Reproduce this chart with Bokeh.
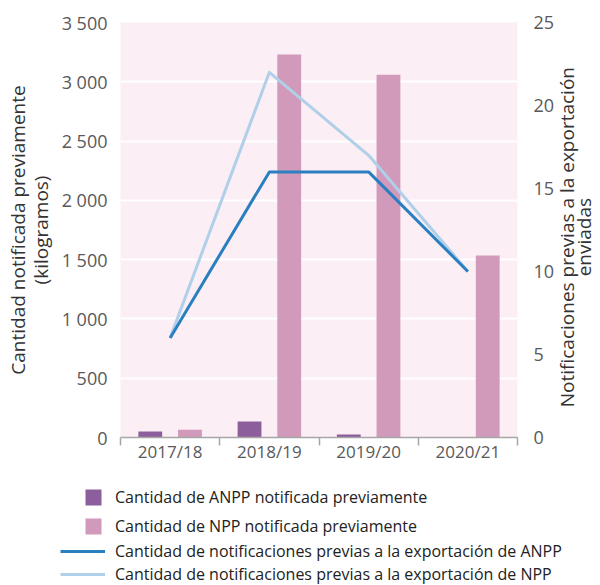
import math
from bokeh.plotting import figure
from bokeh.models import (ColumnDataSource, Range1d, LinearAxis, FixedTicker,
                          Legend, LegendItem, Label)
from bokeh.transform import dodge
from bokeh.embed import file_html
from bokeh.resources import INLINE

# ---------------- data ----------------
categories = ["2017/18", "2018/19", "2019/20", "2020/21"]
anpp_kg = [50, 135, 25, 4]
npp_kg = [65, 3230, 3060, 1535]
anpp_notifications = [6, 16, 16, 10]
npp_notifications = [6, 22, 17, 10]
left_ticks = [0, 500, 1000, 1500, 2000, 2500, 3000, 3500]
right_ticks = [0, 5, 10, 15, 20, 25]

left_title = "Cantidad notificada previamente\n(kilogramos)"
right_title = "Notificaciones previas a la exportación\nenviadas"
legend_labels = [
    "Cantidad de ANPP notificada previamente",
    "Cantidad de NPP notificada previamente",
    "Cantidad de notificaciones previas a la exportación de ANPP",
    "Cantidad de notificaciones previas a la exportación de NPP",
]

# ---------------- styling ----------------
FONT = "Open Sans"
C_ANPP_BAR = "#8C5E9C"
C_NPP_BAR = "#D199BA"
C_ANPP_LINE = "#2A7FC0"
C_NPP_LINE = "#AFD0E8"
TICK_COLOR = "#595959"
AXIS_GRAY = "#A6A6A6"
W = 600
H_MAIN = 475
H_LEG = 110

n = len(categories)
centers = [i + 0.5 for i in range(n)]
bounds = list(range(n + 1))

src = ColumnDataSource(dict(x=centers, cat=categories, anpp=anpp_kg, npp=npp_kg,
                            anpp_n=anpp_notifications, npp_n=npp_notifications))

p = figure(width=W, height=H_MAIN, x_range=Range1d(0, n), y_range=Range1d(0, 3500),
           output_backend="svg", toolbar_location=None,
           min_border_left=120, min_border_right=83, min_border_top=22,
           min_border_bottom=H_MAIN - 437, background_fill_color="#FCEEF5",
           border_fill_color="white", outline_line_color=None)

p.extra_y_ranges = {"right": Range1d(0, 25)}

# grid
p.xgrid.visible = False
lt = FixedTicker(ticks=left_ticks)
p.ygrid.ticker = lt
p.ygrid.grid_line_color = "white"
p.ygrid.grid_line_width = 2

# left axis
ya = p.yaxis[0]
ya.ticker = lt
ya.major_label_overrides = {v: f"{v:,}".replace(",", " ") for v in left_ticks}
ya.axis_line_color = None
ya.major_tick_line_color = None
ya.minor_tick_line_color = None
ya.major_label_standoff = 7
ya.major_label_text_font = FONT
ya.major_label_text_font_size = "18px"
ya.major_label_text_color = TICK_COLOR
ya.axis_label = left_title
ya.axis_label_text_font = FONT
ya.axis_label_text_font_size = "19px"
ya.axis_label_text_font_style = "normal"
ya.axis_label_text_color = "#333333"
ya.axis_label_text_line_height = 0.88
ya.axis_label_standoff = 5

# bottom axis
xa = p.xaxis[0]
xa.ticker = FixedTicker(ticks=centers, minor_ticks=bounds)
xa.major_label_overrides = {c: cat for c, cat in zip(centers, categories)}
xa.major_tick_line_color = None
xa.minor_tick_in = 0
xa.minor_tick_out = 8
xa.minor_tick_line_color = AXIS_GRAY
xa.minor_tick_line_width = 1.5
xa.axis_line_color = AXIS_GRAY
xa.axis_line_width = 1.5
xa.major_label_standoff = -6
xa.major_label_text_font = FONT
xa.major_label_text_font_size = "17px"
xa.major_label_text_color = TICK_COLOR

# right axis
ra = LinearAxis(y_range_name="right", ticker=FixedTicker(ticks=right_ticks))
ra.axis_line_color = None
ra.major_tick_line_color = None
ra.minor_tick_line_color = None
ra.major_label_standoff = 10
ra.major_label_text_font = FONT
ra.major_label_text_font_size = "18px"
ra.major_label_text_color = TICK_COLOR
p.add_layout(ra, "right")

# right-hand title, in its own side panel, reading bottom-to-top
p.add_layout(Label(x=18, x_units="screen", y=1690, text=right_title,
                   angle=math.pi / 2, angle_units="rad",
                   text_align="center", text_baseline="middle",
                   text_line_height=0.62,
                   text_font=FONT, text_font_size="19px", text_color="#333333"),
             "right")

# bars
p.vbar(x=dodge("x", -0.2, range=p.x_range), top="anpp", width=0.24,
       source=src, fill_color=C_ANPP_BAR, line_color=None)
p.vbar(x=dodge("x", 0.2, range=p.x_range), top="npp", width=0.24,
       source=src, fill_color=C_NPP_BAR, line_color=None)

# lines
p.line(x="x", y="npp_n", source=src, y_range_name="right",
       line_color=C_NPP_LINE, line_width=3, line_join="round")
p.line(x="x", y="anpp_n", source=src, y_range_name="right",
       line_color=C_ANPP_LINE, line_width=3, line_join="round")

# ---------------- legend panel (separate root below the chart) ----------------
# its ranges lie outside the data, so its renderers only serve as legend keys
q = figure(width=W, height=H_LEG, x_range=Range1d(-20, -19), y_range=Range1d(-20, -19),
           output_backend="svg", toolbar_location=None,
           x_axis_location=None, y_axis_location=None,
           min_border=0, min_border_left=0, min_border_right=0,
           min_border_top=0, min_border_bottom=0, outline_line_color=None,
           background_fill_color="white", border_fill_color="white")
q.grid.visible = False
k1 = q.vbar(x="x", top="anpp", width=0.24, source=src,
            fill_color=C_ANPP_BAR, line_color=None)
k2 = q.vbar(x="x", top="npp", width=0.24, source=src,
            fill_color=C_NPP_BAR, line_color=None)
k3 = q.line(x="x", y="anpp_n", source=src, line_color=C_ANPP_LINE, line_width=3)
k4 = q.line(x="x", y="npp_n", source=src, line_color=C_NPP_LINE, line_width=3)

common = dict(padding=0, margin=0, border_line_color=None, background_fill_alpha=0,
              label_text_font=FONT, label_text_font_size="16px",
              label_text_color="#222222")

leg1 = Legend(items=[LegendItem(label=legend_labels[0], renderers=[k1]),
                     LegendItem(label=legend_labels[1], renderers=[k2])],
              location=(83, 48), glyph_width=20, glyph_height=20, label_height=22,
              spacing=7, label_standoff=12, **common)
leg2 = Legend(items=[LegendItem(label=legend_labels[2], renderers=[k3]),
                     LegendItem(label=legend_labels[3], renderers=[k4])],
              location=(60, 0), glyph_width=45, glyph_height=20, label_height=22,
              spacing=1, label_standoff=10, **common)
q.add_layout(leg1)
q.add_layout(leg2)

open("out.html", "w").write(file_html([p, q], INLINE))
